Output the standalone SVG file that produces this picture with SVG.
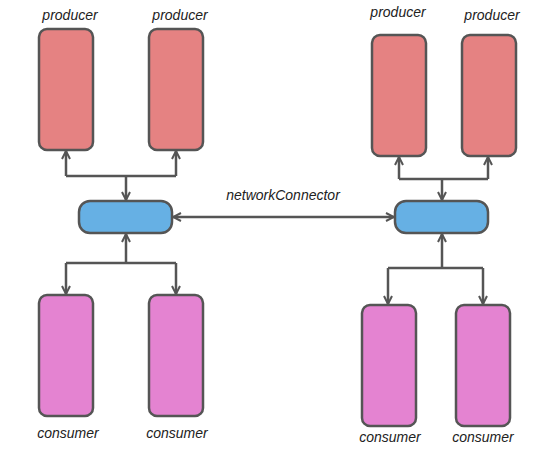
<svg xmlns="http://www.w3.org/2000/svg" width="548" height="452" viewBox="0 0 548 452">
<style>
.prod{fill:#e58282;stroke:#555;stroke-width:2.5}
.cons{fill:#e483d1;stroke:#555;stroke-width:2.5}
.hub{fill:#66b0e4;stroke:#555;stroke-width:2.5}
.lbl{font-family:"Liberation Sans",Arial,sans-serif;font-style:italic;font-size:14px;fill:#222;text-anchor:middle}
.ln{fill:none;stroke:#555;stroke-width:2.5;stroke-linejoin:round}
</style>
<defs>
<marker id="ah" viewBox="0 0 10 10" refX="9" refY="5" markerWidth="10" markerHeight="10" markerUnits="userSpaceOnUse" orient="auto-start-reverse">
<path d="M1,1 L9,5 L1,9" fill="none" stroke="#555" stroke-width="2"/>
</marker>
</defs>
<g id="producer-l1"><rect class="prod" x="39" y="29" width="54" height="121" rx="8"/><text class="lbl" x="70" y="20">producer</text></g>
<g id="producer-l2"><rect class="prod" x="149" y="29" width="54" height="121" rx="8"/><text class="lbl" x="180" y="20">producer</text></g>
<g id="hub-l"><rect class="hub" x="79" y="201" width="93" height="32" rx="11"/></g>
<g id="consumer-l1"><rect class="cons" x="39" y="295" width="54" height="121" rx="8"/><text class="lbl" x="68" y="438">consumer</text></g>
<g id="consumer-l2"><rect class="cons" x="149" y="295" width="54" height="121" rx="8"/><text class="lbl" x="177" y="438">consumer</text></g>
<g id="producer-r1"><rect class="prod" x="372" y="35" width="54" height="121" rx="8"/><text class="lbl" x="398" y="17">producer</text></g>
<g id="producer-r2"><rect class="prod" x="462" y="35" width="54" height="121" rx="8"/><text class="lbl" x="492" y="20">producer</text></g>
<g id="hub-r"><rect class="hub" x="395" y="201" width="93" height="32" rx="11"/></g>
<g id="consumer-r1"><rect class="cons" x="362" y="305" width="54" height="121" rx="8"/><text class="lbl" x="390" y="442">consumer</text></g>
<g id="consumer-r2"><rect class="cons" x="456" y="305" width="54" height="121" rx="8"/><text class="lbl" x="483" y="442">consumer</text></g>
<g id="connectors">
<path class="ln" d="M66,176 L176,176"/>
<path class="ln" d="M66,176 L66,151" marker-end="url(#ah)"/>
<path class="ln" d="M176,176 L176,151" marker-end="url(#ah)"/>
<path class="ln" d="M126,176 L126,200" marker-end="url(#ah)"/>
<path class="ln" d="M126,263 L126,234" marker-end="url(#ah)"/>
<path class="ln" d="M66,263 L176,263"/>
<path class="ln" d="M66,263 L66,294" marker-end="url(#ah)"/>
<path class="ln" d="M176,263 L176,294" marker-end="url(#ah)"/>
<path class="ln" d="M399,179 L488,179"/>
<path class="ln" d="M399,179 L399,157" marker-end="url(#ah)"/>
<path class="ln" d="M488,179 L488,157" marker-end="url(#ah)"/>
<path class="ln" d="M442,179 L442,200" marker-end="url(#ah)"/>
<path class="ln" d="M442,268 L442,234" marker-end="url(#ah)"/>
<path class="ln" d="M388,268 L483,268"/>
<path class="ln" d="M388,268 L388,304" marker-end="url(#ah)"/>
<path class="ln" d="M483,268 L483,304" marker-end="url(#ah)"/>
<path class="ln" d="M173,217 L394,217" marker-start="url(#ah)" marker-end="url(#ah)"/>
<text class="lbl" x="283" y="200">networkConnector</text>
</g>
</svg>
